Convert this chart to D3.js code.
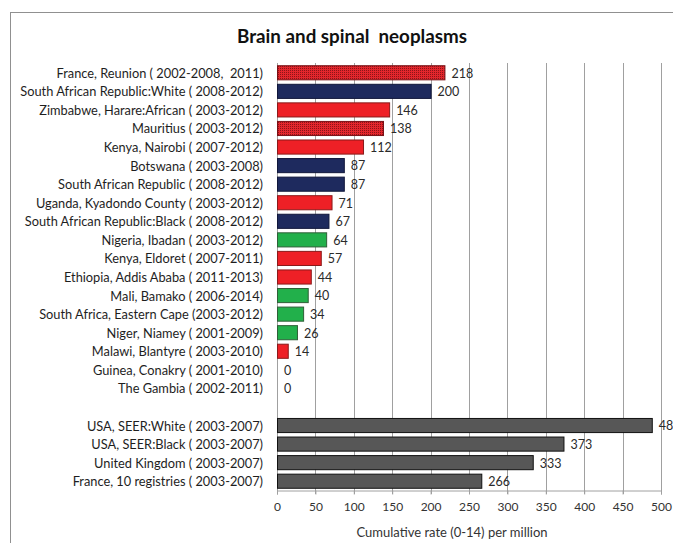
<!DOCTYPE html>
<html>
<head>
<meta charset="utf-8">
<script src="https://cdn.jsdelivr.net/npm/d3@7"></script>
<style>
  html, body { margin: 0; padding: 0; background: #fff; }
  svg { display: block; font-family: Lato, "Open Sans", sans-serif; }
  text { white-space: pre; }
</style>
</head>
<body>
<svg id="chart" width="673" height="543"></svg>
<script>
// African registries, ordered by rate
const africaLabels = [
  "France, Reunion ( 2002-2008,  2011)",
  "South African Republic:White ( 2008-2012)",
  "Zimbabwe, Harare:African ( 2003-2012)",
  "Mauritius ( 2003-2012)",
  "Kenya, Nairobi ( 2007-2012)",
  "Botswana ( 2003-2008)",
  "South African Republic ( 2008-2012)",
  "Uganda, Kyadondo County ( 2003-2012)",
  "South African Republic:Black ( 2008-2012)",
  "Nigeria, Ibadan ( 2003-2012)",
  "Kenya, Eldoret ( 2007-2011)",
  "Ethiopia, Addis Ababa ( 2011-2013)",
  "Mali, Bamako ( 2006-2014)",
  "South Africa, Eastern Cape (2003-2012)",
  "Niger, Niamey ( 2001-2009)",
  "Malawi, Blantyre ( 2003-2010)",
  "Guinea, Conakry ( 2001-2010)",
  "The Gambia ( 2002-2011)"
];
const africaValues = [218, 200, 146, 138, 112, 87, 87, 71, 67, 64, 57, 44, 40, 34, 26, 14, 0, 0];
const africaGroups = ["reunion", "white", "east", "reunion", "east", "white", "white", "east", "white",
                      "west", "east", "east", "west", "west", "west", "east", "west", "west"];

// Reference (high-income) registries
const refLabels = [
  "USA, SEER:White ( 2003-2007)",
  "USA, SEER:Black ( 2003-2007)",
  "United Kingdom ( 2003-2007)",
  "France, 10 registries ( 2003-2007)"
];
const refValues = [488, 373, 333, 266];

const xTicks = [0, 50, 100, 150, 200, 250, 300, 350, 400, 450, 500];
const titleText = "Brain and spinal  neoplasms";
const xTitle = "Cumulative rate (0-14) per million";

const groupFill = {
  reunion: "url(#dots)",
  white: "#1e2a5e",
  east: "#ee2026",
  west: "#22b04b",
  ref: "#575757"
};
const groupStroke = {
  reunion: "#7a1015",
  white: "#10163a",
  east: "#8a1a1a",
  west: "#2f5f38",
  ref: "#111111"
};

const rows = africaLabels.map((l, i) => ({ key: "a" + i, label: l, value: africaValues[i], group: africaGroups[i] }))
  .concat(refLabels.map((l, i) => ({ key: "r" + i, label: l, value: refValues[i], group: "ref" })));
const bandDomain = africaLabels.map((d, i) => "a" + i).concat(["gap"], refLabels.map((d, i) => "r" + i));

const svg = d3.select("#chart");
const plotLeft = 277, plotRight = 661, plotTop = 63, plotBottom = 490;

// dotted fill used for the French overseas / island registries
const defs = svg.append("defs");
const pat = defs.append("pattern").attr("id", "dots").attr("patternUnits", "userSpaceOnUse")
  .attr("width", 2).attr("height", 2);
pat.append("rect").attr("width", 2).attr("height", 2).attr("fill", "#e3262c");
pat.append("rect").attr("width", 1).attr("height", 1).attr("fill", "#8c1418");

// outer chart frame
svg.append("rect").attr("x", 10.5).attr("y", 12.5).attr("width", 700).attr("height", 600)
  .attr("fill", "none").attr("stroke", "#909090").attr("stroke-width", 1);

const x = d3.scaleLinear().domain([0, 500]).range([plotLeft, plotRight]);
const y = d3.scaleBand().domain(bandDomain).range([plotTop, plotBottom]).paddingInner(0.24).paddingOuter(0.12);

// vertical gridlines
svg.append("g").selectAll("line").data(xTicks.slice(1)).join("line")
  .attr("x1", d => Math.round(x(d)) + 0.5).attr("x2", d => Math.round(x(d)) + 0.5)
  .attr("y1", plotTop).attr("y2", plotBottom + 4)
  .attr("stroke", "#a0a0a0").attr("stroke-width", 1);

// bottom axis
const xAxis = svg.append("g").attr("transform", `translate(0,${plotBottom + 0.5})`)
  .call(d3.axisBottom(x).tickValues(xTicks).tickSize(4).tickPadding(8));
xAxis.select(".domain").attr("stroke", "#a0a0a0");
xAxis.selectAll(".tick line").attr("stroke", "#a0a0a0");
xAxis.selectAll(".tick text").attr("font-size", 12).attr("fill", "#333").attr("font-family", "Lato, sans-serif");

// left axis line
svg.append("line").attr("x1", plotLeft + 0.5).attr("x2", plotLeft + 0.5).attr("y1", plotTop).attr("y2", plotBottom + 4)
  .attr("stroke", "#a0a0a0");

// bars
svg.append("g").selectAll("rect").data(rows.filter(d => d.value > 0)).join("rect")
  .attr("x", x(0) + 0.5)
  .attr("y", d => y(d.key) + 0.5)
  .attr("width", d => x(d.value) - x(0))
  .attr("height", y.bandwidth())
  .attr("fill", d => groupFill[d.group])
  .attr("stroke", d => groupStroke[d.group])
  .attr("stroke-width", 1);

// value labels
svg.append("g").selectAll("text").data(rows).join("text")
  .attr("x", d => x(d.value) + 7)
  .attr("y", d => y(d.key) + y.bandwidth() / 2 + 1)
  .attr("dy", "0.35em")
  .attr("font-size", 12.5)
  .attr("fill", "#2a2a2a")
  .text(d => d.value);

// category labels
svg.append("g").selectAll("text").data(rows).join("text")
  .attr("x", 263)
  .attr("y", d => y(d.key) + y.bandwidth() / 2 + 1)
  .attr("dy", "0.35em")
  .attr("text-anchor", "end")
  .attr("font-size", 12.8)
  .attr("fill", "#1e1e1e")
  .text(d => d.label);

// titles
svg.append("text").attr("x", 352).attr("y", 43).attr("text-anchor", "middle")
  .attr("font-size", 18.8).attr("font-weight", "bold").attr("fill", "#111").text(titleText);
svg.append("text").attr("x", 452).attr("y", 537).attr("text-anchor", "middle")
  .attr("font-size", 13).attr("fill", "#333").text(xTitle);
</script>
</body>
</html>
